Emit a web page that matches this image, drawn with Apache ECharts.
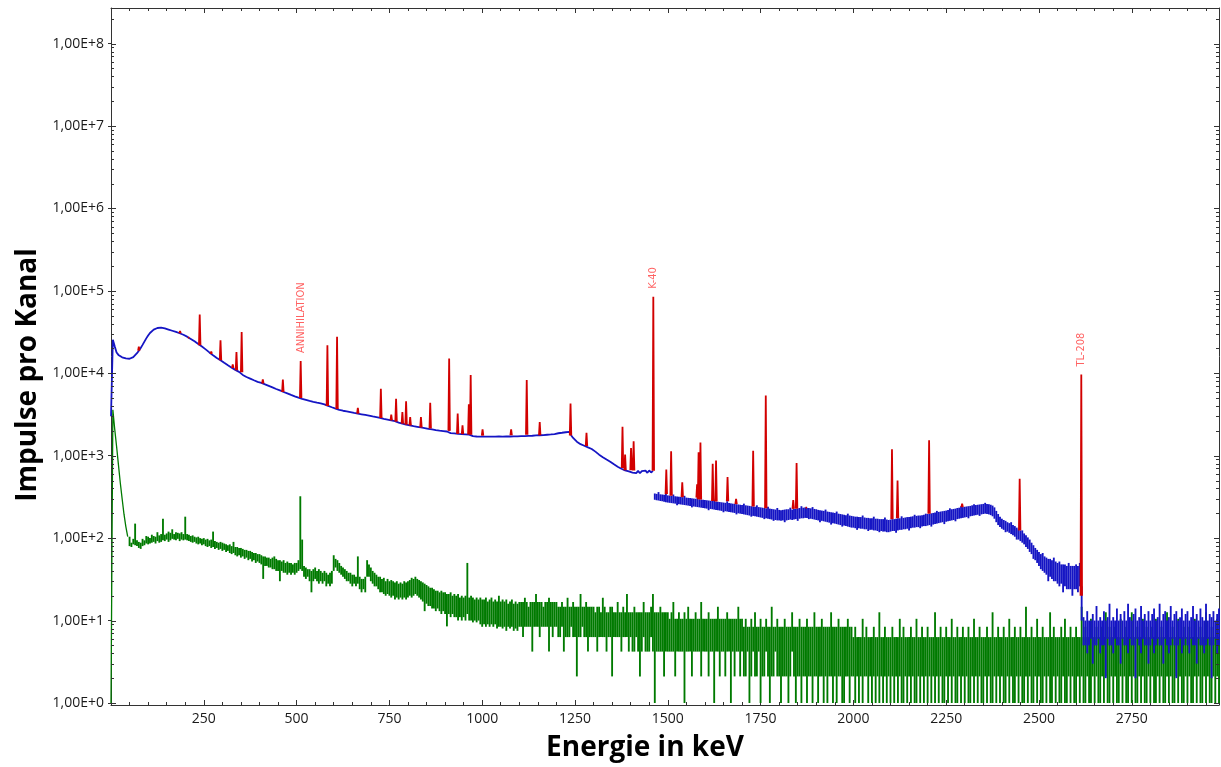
<!DOCTYPE html>
<html>
<head>
<meta charset="utf-8">
<script src="https://cdn.jsdelivr.net/npm/echarts@6/dist/echarts.min.js"></script>
<style>
  html, body { margin: 0; padding: 0; background: #ffffff; }
  #chart { width: 1221px; height: 767px; }
</style>
</head>
<body>
<div id="chart"></div>
<script>
// Energy grid of the stored spectra: one entry every 5 keV
const CHANNEL_KEV = 5;
const X_MAX = 2985;
const Y_MIN = 0.945;
const Y_MAX = 2.7e8;

// Sample spectrum, counts per channel, 0 ... 1460 keV
const sampleCounts = [
  3000, 25500, 21200, 17900, 16700, 16000, 15600, 15300, 15150, 15050, 15000, 15200, 15700, 16500, 17500, 18800, 20300, 22100, 24200, 26500,
  28700, 30800, 32500, 33800, 34800, 35400, 35700, 35800, 35500, 35000, 34400, 33900, 33300, 32800, 32200, 31700, 31200, 30600, 30000, 29300,
  28600, 27800, 27000, 26100, 25300, 24400, 23500, 22700, 21900, 21100, 20300, 19500, 18700, 17900, 17200, 16500, 15900, 15300, 14800, 14400,
  14000, 13400, 13100, 12500, 12300, 11700, 11600, 11000, 10900, 10400, 10300, 9550, 9380, 9020, 8980, 8620, 8580, 8220, 8180, 7870,
  7850, 7650, 7520, 7340, 7240, 7040, 6940, 6740, 6640, 6440, 6370, 6190, 6110, 5930, 5860, 5690, 5610, 5460, 5390, 5240,
  5190, 5050, 5010, 4890, 4860, 4760, 4730, 4630, 4610, 4510, 4500, 4410, 4410, 4320, 4300, 4200, 4170, 4020, 3980, 3870,
  3830, 3730, 3680, 3600, 3590, 3510, 3510, 3440, 3430, 3370, 3360, 3300, 3300, 3240, 3240, 3180, 3180, 3120, 3120, 3060,
  3060, 2990, 3000, 2930, 2930, 2870, 2860, 2800, 2800, 2740, 2740, 2680, 2680, 2620, 2590, 2520, 2510, 2450, 2450, 2380,
  2390, 2330, 2340, 2280, 2300, 2240, 2260, 2200, 2220, 2160, 2180, 2120, 2140, 2080, 2100, 2040, 2070, 2010, 2040, 1990,
  2020, 1965, 2000, 1880, 1920, 1860, 1900, 1840, 1880, 1825, 1865, 1815, 1855, 1805, 1795, 1725, 1760, 1710, 1750, 1705,
  1750, 1700, 1760, 1700, 1755, 1705, 1765, 1700, 1760, 1710, 1770, 1705, 1765, 1715, 1775, 1710, 1770, 1720, 1780, 1720,
  1775, 1725, 1785, 1730, 1790, 1740, 1800, 1745, 1805, 1760, 1815, 1770, 1830, 1780, 1840, 1795, 1855, 1810, 1870, 1830,
  1860, 1872, 1885, 1898, 1910, 1925, 1938, 1950, 1760, 1640, 1570, 1480, 1440, 1380, 1370, 1320, 1310, 1260, 1260, 1205,
  1185, 1120, 1100, 1030, 1035, 960, 975, 900, 910, 845, 850, 785, 790, 735, 750, 695, 710, 665, 690, 645,
  665, 625, 660, 615, 655, 612, 650, 618, 660, 620, 662, 625, 655
];

// Sample spectrum above the K-40 line: lowest and highest counts per 5 keV bin, 1465 ... 2985 keV
const SAMPLE_BANDS_START = 1465;
const sampleBands = [
  292,348, 288,344, 286,362, 282,340, 280,338, 276,336, 272,342,
  270,330, 268,328, 266,326, 264,338, 262,322, 250,320, 258,318, 256,316, 254,314, 252,326, 250,310, 248,308, 246,306, 236,304, 242,302, 240,300, 238,310, 236,296, 234,294, 232,292,
  230,290, 228,288, 218,286, 226,284, 224,282, 222,292, 220,278, 218,276, 216,274, 214,272, 206,270, 212,268, 210,280, 208,266, 206,264, 204,262, 202,260, 194,258, 200,256, 198,254,
  196,252, 194,262, 192,250, 190,248, 188,246, 182,244, 186,242, 184,240, 182,250, 180,238, 178,236, 176,234, 170,232, 174,230, 172,240, 170,228, 168,226, 162,224, 166,222, 164,232,
  164,220, 162,218, 164,220, 156,222, 164,224, 166,224, 168,234, 166,222, 168,226, 170,228, 162,230, 172,232, 174,244, 174,234, 176,236, 176,234, 170,232, 172,230, 170,238, 168,226,
  166,224, 164,220, 156,218, 162,216, 160,214, 158,222, 156,210, 154,208, 146,206, 152,204, 150,202, 148,210, 146,198, 144,196, 138,194, 142,192, 140,190, 138,198, 136,188, 134,186,
  134,184, 132,182, 126,182, 132,180, 130,180, 130,188, 128,178, 128,176, 122,176, 126,174, 126,174, 124,182, 124,172, 122,172, 118,170, 122,170, 120,170, 120,178, 118,168, 118,166,
  120,168, 122,170, 122,170, 116,172, 124,174, 126,174, 126,184, 128,176, 128,178, 130,180, 124,180, 132,182, 134,184, 134,192, 136,186, 136,188, 132,188, 138,190, 140,192, 140,198,
  142,196, 144,198, 138,200, 146,202, 148,204, 150,214, 152,208, 154,210, 156,212, 148,214, 158,216, 160,220, 162,230, 164,224, 166,226, 160,228, 170,232, 172,234, 174,244, 176,238,
  178,240, 180,242, 174,244, 184,246, 186,250, 188,258, 190,252, 192,254, 186,256, 194,258, 196,260, 198,268, 196,260, 194,258, 190,254, 184,248, 172,236, 156,214, 144,196, 136,182,
  130,172, 126,166, 118,162, 120,156, 116,152, 112,156, 108,144, 104,140, 96,134, 96,128, 92,124, 88,124, 84,114, 78,108, 74,102, 68,96, 64,88, 56,82, 54,76, 50,72,
  46,68, 42,64, 40,66, 38,60, 36,58, 30,56, 34,56, 32,54, 30,58, 30,52, 28,50, 26,52, 28,48, 22,48, 26,48, 24,46, 24,50, 24,46, 20,46, 24,46,
  24,48, 22,46, 26,50,
  10,20, 5,11, 5,10, 4,13, 5,10, 6,10, 3,12, 5,10, 5,15, 6,10, 4,11, 5,10, 5,13, 2,10, 6,11, 5,16, 5,10,
  4,11, 6,10, 5,14, 5,10, 3,12, 6,10, 5,13, 5,10, 4,16, 6,11, 5,10, 5,12, 2,14, 6,10, 5,11, 4,15, 6,10, 5,12, 5,10, 3,13,
  5,10, 6,12, 4,14, 5,10, 6,11, 5,16, 5,10, 3,12, 6,13, 5,10, 4,11, 5,15, 6,10, 5,12, 2,13, 5,10, 6,11, 4,14, 5,10, 6,12,
  5,13, 4,10, 6,11, 5,15, 5,10, 3,12, 6,10, 5,14, 5,11, 4,10, 5,16, 6,10, 5,12, 2,11, 5,13, 6,10, 4,12, 5,14
];

// Background spectrum, counts per channel, 0 ... 45 keV
const backgroundCounts = [1, 3600, 2100, 1300, 780, 470, 300, 195, 138, 104];

// Background spectrum: lowest and highest counts per 5 keV bin, 50 ... 2985 keV
const BACKGROUND_BANDS_START = 50;
const backgroundBands = [
  80,92, 78,88, 84,98, 82,150, 80,94, 76,90, 74,88, 80,98, 82,94, 86,106,
  84,104, 86,100, 88,110, 90,106, 86,104, 92,118, 88,108, 90,112, 94,172, 92,110, 96,114, 90,120, 94,116, 98,128, 96,112, 94,118, 98,116, 92,114, 96,118, 94,112,
  96,182, 94,112, 92,110, 90,106, 88,108, 90,104, 86,102, 84,104, 86,100, 82,98, 84,100, 80,96, 78,98, 80,94, 76,96, 78,120, 74,92, 76,90, 72,88, 74,90,
  70,88, 72,86, 68,84, 70,82, 66,84, 64,80, 66,90, 62,78, 60,78, 62,76, 58,76, 60,74, 56,72, 58,72, 54,70, 56,70, 52,68, 54,66, 50,66, 52,64,
  50,64, 48,62, 32,60, 46,60, 46,58, 44,58, 44,56, 42,58, 42,60, 40,56, 40,54, 30,54, 40,52, 38,54, 38,50, 36,52, 38,50, 36,50, 38,48, 36,50,
  38,50, 40,54, 42,322, 40,96, 34,46, 32,44, 34,42, 30,42, 22,40, 30,42, 32,44, 30,40, 28,42, 30,40, 28,38, 30,40, 26,38, 28,36, 26,38, 28,40,
  48,62, 44,56, 40,54, 38,50, 36,46, 34,44, 32,42, 30,40, 30,38, 28,38, 26,36, 28,36, 26,34, 28,60, 24,34, 22,32, 24,32, 22,34, 36,54, 34,48,
  30,44, 28,40, 26,38, 26,36, 24,34, 22,34, 22,32, 21,33, 20,30, 21,32, 20,30, 19,31, 20,30, 18,29, 19,30, 18,28, 19,29, 18,28, 19,30, 18,29,
  19,30, 20,31, 19,33, 20,32, 21,34, 20,32, 19,31, 18,30, 17,29, 13,28, 16,27, 15,26, 15,25, 14,25, 14,24, 13,23, 14,23, 13,22, 12,23, 13,22,
  12,22, 8.5,21, 12,21, 11,22, 12,20, 11,21, 11,20, 10,21, 11,19, 10,20, 11,19, 10,20, 12,50, 10,19, 10,20, 9.5,19, 10,18, 9.5,19, 10,18, 9,19,
  8.4,18, 9,18, 8.4,19, 9,17, 8.4,18, 9,19, 8.4,17, 9,18, 8,17, 8.4,20, 8.4,17, 8,18, 8.4,17, 7.5,18, 8.4,16, 8,17, 8.4,18, 7.5,16, 8,17, 7.5,16,
  8.4,16.8, 8.4,16.8, 6.3,16.8, 8.4,18.9, 8.4,16.8, 8.4,14.7, 8.4,16.8, 4.2,16.8, 8.4,16.8, 8.4,21, 8.4,16.8, 6.3,16.8, 8.4,16.8, 8.4,14.7, 8.4,16.8, 8.4,16.8, 4.2,18.9, 8.4,16.8, 6.3,16.8, 8.4,16.8,
  8.4,16.8, 6.3,14.7, 6.3,14.7, 8.4,16.8, 4.2,14.7, 6.3,14.7, 6.3,18.9, 6.3,14.7, 8.4,14.7, 6.3,16.8, 6.3,14.7, 2.1,14.7, 6.3,14.7, 6.3,21, 8.4,14.7, 6.3,14.7, 6.3,16.8, 4.2,14.7, 6.3,14.7, 6.3,14.7,
  6.3,14.7, 6.3,12.6, 4.2,14.7, 6.3,14.7, 6.3,12.6, 6.3,18.9, 6.3,14.7, 4.2,12.6, 6.3,12.6, 6.3,14.7, 2.1,14.7, 6.3,12.6, 6.3,12.6, 6.3,16.8, 6.3,12.6, 4.2,12.6, 6.3,14.7, 6.3,12.6, 6.3,21, 4.2,12.6,
  6.3,12.6, 4.2,12.6, 4.2,14.7, 6.3,12.6, 4.2,12.6, 2.1,12.6, 4.2,12.6, 6.3,16.8, 4.2,12.6, 4.2,12.6, 4.2,12.6, 6.3,14.7, 4.2,21, 1,12.6, 4.2,12.6, 4.2,12.6, 4.2,14.7, 4.2,12.6, 2.1,12.6, 4.2,12.6,
  4.2,12.6, 4.2,10.5, 4.2,12.6, 4.2,16.8, 2.1,10.5, 4.2,10.5, 4.2,12.6, 4.2,10.5, 4.2,10.5, 1,12.6, 4.2,10.5, 4.2,14.7, 4.2,10.5, 2.1,10.5, 4.2,10.5, 4.2,12.6, 4.2,10.5, 4.2,10.5, 2.1,16.8, 4.2,10.5,
  4.2,10.5, 4.2,10.5, 2.1,12.6, 4.2,10.5, 4.2,10.5, 1,10.5, 4.2,10.5, 4.2,14.7, 2.1,10.5, 4.2,10.5, 4.2,10.5, 2.1,10.5, 4.2,12.6, 4.2,10.5, 1,10.5, 4.2,10.5, 2.1,10.5, 4.2,10.5, 4.2,14.7, 2.1,10.5,
  4.2,10.5, 2.1,8.4, 2.1,10.5, 4.2,8.4, 1,8.4, 2.1,10.5, 4.2,8.4, 2.1,12.6, 2.1,8.4, 4.2,8.4, 1,10.5, 2.1,8.4, 2.1,8.4, 4.2,10.5, 2.1,8.4, 1,8.4, 2.1,14.7, 2.1,8.4, 4.2,8.4, 2.1,10.5,
  2.1,8.4, 1,8.4, 2.1,8.4, 2.1,10.5, 2.1,8.4, 1,8.4, 2.1,8.4, 4.2,12.6, 2.1,8.4, 1,8.4, 2.1,8.4, 2.1,10.5, 1,8.4, 2.1,8.4, 2.1,8.4, 1,10.5, 2.1,8.4, 2.1,8.4, 1,8.4, 2.1,12.6,
  2.1,8.4, 1,8.4, 2.1,8.4, 2.1,10.5, 1,8.4, 2.1,8.4, 1,8.4, 2.1,8.4, 2.1,12.6, 1,8.4, 2.1,8.4, 1,8.4, 2.1,10.5, 2.1,8.4, 1,8.4, 1,8.4, 2.1,8.4, 2.1,10.5, 1,8.4, 2.1,8.4,
  2.1,6.3, 1,8.4, 2.1,6.3, 1,6.3, 2.1,6.3, 1,10.5, 2.1,6.3, 2.1,8.4, 1,6.3, 2.1,6.3, 1,6.3, 2.1,8.4, 1,6.3, 2.1,6.3, 1,12.6, 2.1,6.3, 1,6.3, 2.1,8.4, 1,6.3, 2.1,6.3,
  1,6.3, 2.1,8.4, 1,6.3, 2.1,6.3, 1,6.3, 2.1,10.5, 1,6.3, 1,8.4, 2.1,6.3, 1,6.3, 2.1,6.3, 1,8.4, 2.1,6.3, 1,6.3, 1,10.5, 2.1,6.3, 1,6.3, 2.1,8.4, 1,6.3, 2.1,6.3,
  1,8.4, 2.1,6.3, 1,6.3, 2.1,6.3, 1,12.6, 2.1,6.3, 1,6.3, 2.1,8.4, 1,6.3, 1,6.3, 2.1,8.4, 1,6.3, 2.1,6.3, 1,10.5, 2.1,6.3, 1,6.3, 1,8.4, 2.1,6.3, 1,6.3, 2.1,8.4,
  1,6.3, 2.1,6.3, 1,8.4, 1,6.3, 2.1,6.3, 1,10.5, 2.1,6.3, 1,6.3, 2.1,8.4, 1,6.3, 1,6.3, 2.1,6.3, 1,8.4, 2.1,6.3, 1,6.3, 1,12.6, 2.1,6.3, 1,6.3, 2.1,8.4, 1,6.3,
  2.1,6.3, 1,8.4, 1,6.3, 2.1,6.3, 1,10.5, 2.1,6.3, 1,6.3, 1,8.4, 2.1,6.3, 1,6.3, 2.1,8.4, 1,6.3, 1,6.3, 2.1,14.7, 1,6.3, 2.1,6.3, 1,8.4, 1,6.3, 2.1,6.3, 1,10.5,
  2.1,6.3, 1,6.3, 1,8.4, 2.1,6.3, 1,6.3, 2.1,6.3, 1,12.6, 1,6.3, 2.1,8.4, 1,6.3, 2.1,6.3, 1,6.3, 1,8.4, 2.1,6.3, 1,10.5, 1,6.3, 2.1,6.3, 1,8.4, 2.1,6.3, 1,6.3,
  1,8.4, 2.1,6.3, 1,6.3, 2.1,14.7, 1,6.3, 1,8.4, 2.1,6.3, 1,6.3, 1,10.5, 2.1,6.3, 1,6.3, 2.1,8.4, 1,6.3, 1,6.3, 2.1,8.4, 1,6.3, 2.1,12.6, 1,6.3, 1,8.4, 2.1,6.3,
  1,6.3, 2.1,8.4, 1,6.3, 1,6.3, 2.1,10.5, 1,6.3, 2.1,6.3, 1,8.4, 1,6.3, 2.1,6.3, 1,12.6, 2.1,6.3, 1,6.3, 1,8.4, 2.1,6.3, 1,6.3, 2.1,10.5, 1,6.3, 1,8.4, 2.1,6.3,
  1,6.3, 2.1,8.4, 1,6.3, 1,10.5, 2.1,6.3, 1,6.3, 2.1,8.4, 1,6.3, 1,6.3, 2.1,12.6, 1,6.3, 2.1,6.3, 1,8.4, 1,6.3, 2.1,6.3, 1,10.5, 2.1,6.3, 1,6.3, 1,8.4, 2.1,6.3,
  1,6.3, 2.1,8.4, 1,6.3, 1,6.3, 2.1,10.5, 1,6.3, 2.1,6.3, 1,8.4, 1,6.3, 2.1,6.3, 1,12.6, 2.1,6.3, 1,6.3, 1,8.4, 2.1,6.3, 1,6.3, 2.1,10.5, 1,6.3
];

// Identified peaks of the sample spectrum: [energy keV, peak counts]
const peaks = [
  [75, 21000], [186, 32500], [209, 27800], [239, 51500], [270, 18300], [295, 25200],
  [328, 12800], [338, 18100], [352, 31600], [409, 8400], [463, 8400], [511, 14100],
  [583, 21800], [609, 27700], [665, 3800], [727, 6500], [755, 3160], [768, 4900],
  [785, 3380], [795, 4570], [806, 2950], [835, 2950], [860, 4370], [911, 15100],
  [934, 3240], [947, 2330], [964, 4200], [969, 9500], [1001, 2080], [1078, 2080],
  [1120, 8300], [1155, 2560], [1238, 4300], [1281, 1900], [1378, 2240], [1385, 1030],
  [1401, 1240], [1408, 1500], [1461, 85000], [1496, 680], [1509, 1130], [1539, 475],
  [1579, 450], [1583, 1100], [1588, 1450], [1621, 800], [1630, 875], [1661, 550],
  [1684, 300], [1730, 1150], [1764, 5370], [1838, 290], [1847, 815], [1873, 240],
  [2104, 1200], [2119, 500], [2204, 1540], [2293, 262], [2448, 525], [2614, 9660]
];

// Named lines: [label, energy keV]
const peakNames = [
  ['ANNIHILATION', 511],
  ['K-40', 1461],
  ['TL-208', 2614]
];

// Tick labels of the count axis, one per decade
const decadeLabels = ['1,00E+0', '1,00E+1', '1,00E+2', '1,00E+3', '1,00E+4', '1,00E+5', '1,00E+6', '1,00E+7', '1,00E+8'];

const AXIS_COLOR = '#333333';
const TEXT_FONT = 'Open Sans';
const SAMPLE_COLOR = '#1515c4';
const BACKGROUND_COLOR = '#007a00';
const PEAK_COLOR = '#d20000';

function channelPoints(counts, start) {
  return counts.map((c, i) => [start + i * CHANNEL_KEV, c]);
}

// One item per band bin: [energy, lowest, highest]; each bin is stretched
// to meet the previous bin so the trace stays continuous.
function bandItems(flat, start, before) {
  const items = [];
  let prevLo = before, prevHi = before;
  for (let i = 0; i < flat.length / 2; i++) {
    const lo = flat[2 * i];
    const hi = flat[2 * i + 1];
    items.push([start + i * CHANNEL_KEV, Math.min(lo, prevHi), Math.max(hi, prevLo)]);
    prevLo = lo;
    prevHi = hi;
  }
  return items;
}

const sampleLine = channelPoints(sampleCounts, 0);
const backgroundLine = channelPoints(backgroundCounts, 0);
const sampleBandItems = bandItems(sampleBands, SAMPLE_BANDS_START, sampleBands[0]);
const backgroundBandItems = bandItems(backgroundBands, BACKGROUND_BANDS_START, backgroundCounts[backgroundCounts.length - 1]);

// Continuum level of the sample spectrum at a peak position
function continuumAt(e) {
  if (e < SAMPLE_BANDS_START - CHANNEL_KEV / 2) return sampleCounts[Math.round(e / CHANNEL_KEV)];
  const bin = Math.round((e - SAMPLE_BANDS_START) / CHANNEL_KEV);
  return sampleBands[2 * bin + 1];
}

const peakData = [];
peaks.forEach(([e, top]) => {
  const base = continuumAt(e);
  peakData.push([e - 2, base], [e, top], [e + 2, base], [e + 2, '-']);
});

const peakTop = e => peaks.find(p => p[0] === e)[1];
const nameData = peakNames.map(([name, e]) => ({ value: [e, peakTop(e)], name: name }));

// Log ticks inside the frame on the left and right edges (1..9 per decade)
const logTickData = [];
for (let d = 0; d < decadeLabels.length; d++) {
  for (let k = 1; k <= 9; k++) {
    const v = k * Math.pow(10, d);
    if (v <= Y_MAX) logTickData.push([k, v]);
  }
}

// Each bin fills its 5 keV slot between its lowest and highest count
function bandSeries(name, items, color, z) {
  return {
    name: name,
    type: 'custom',
    data: items,
    encode: { x: 0, y: [1, 2] },
    silent: true,
    z: z,
    renderItem: (params, api) => {
      const e = api.value(0);
      const a = api.coord([e - CHANNEL_KEV / 2, api.value(2)]);
      const b = api.coord([e + CHANNEL_KEV / 2, api.value(1)]);
      return {
        type: 'rect',
        shape: { x: a[0], y: a[1], width: b[0] - a[0], height: Math.max(b[1] - a[1], 1) },
        style: { fill: color }
      };
    }
  };
}

const chart = echarts.init(document.getElementById('chart'), null, { renderer: 'canvas' });

chart.setOption({
  animation: false,
  backgroundColor: '#ffffff',
  grid: { left: 111, right: 2, top: 8, bottom: 62, containLabel: false },
  xAxis: [
    {
      type: 'value',
      min: 0,
      max: X_MAX,
      interval: 250,
      name: 'Energie in keV',
      nameLocation: 'middle',
      nameGap: 29,
      nameTextStyle: { fontFamily: TEXT_FONT, fontWeight: 'bold', fontSize: 28, color: '#000000', padding: [0, 40, 0, 0] },
      axisLine: { show: true, onZero: false, lineStyle: { color: AXIS_COLOR, width: 1 } },
      axisTick: { show: true, inside: true, length: 5, lineStyle: { color: AXIS_COLOR } },
      minorTick: { show: true, splitNumber: 5, length: 3, lineStyle: { color: AXIS_COLOR } },
      axisLabel: {
        showMinLabel: false,
        showMaxLabel: false,
        margin: 7,
        fontFamily: TEXT_FONT,
        fontSize: 14,
        color: '#1a1a1a',
        formatter: v => String(v)
      },
      splitLine: { show: false }
    },
    {
      type: 'value',
      position: 'top',
      min: 0,
      max: X_MAX,
      interval: 250,
      axisLine: { show: true, onZero: false, lineStyle: { color: AXIS_COLOR, width: 1 } },
      axisTick: { show: true, inside: true, length: 5, lineStyle: { color: AXIS_COLOR } },
      minorTick: { show: true, splitNumber: 5, length: 3, lineStyle: { color: AXIS_COLOR } },
      axisLabel: { show: false },
      splitLine: { show: false }
    }
  ],
  yAxis: [
    {
      type: 'log',
      logBase: 10,
      min: Y_MIN,
      max: Y_MAX,
      name: 'Impulse pro Kanal',
      nameLocation: 'middle',
      nameGap: 64,
      nameTextStyle: { fontFamily: TEXT_FONT, fontWeight: 'bold', fontSize: 28, color: '#000000', padding: [0, 37, 0, 0] },
      axisLine: { show: true, onZero: false, lineStyle: { color: AXIS_COLOR, width: 1 } },
      axisTick: { show: true, inside: false, length: 3, lineStyle: { color: AXIS_COLOR } },
      axisLabel: {
        showMinLabel: false,
        showMaxLabel: false,
        margin: 7,
        fontFamily: TEXT_FONT,
        fontSize: 14,
        color: '#1a1a1a',
        formatter: v => decadeLabels[Math.round(Math.log10(v))] || ''
      },
      splitLine: { show: false }
    },
    {
      type: 'log',
      logBase: 10,
      position: 'right',
      min: Y_MIN,
      max: Y_MAX,
      axisLine: { show: true, onZero: false, lineStyle: { color: AXIS_COLOR, width: 1 } },
      axisTick: { show: false },
      axisLabel: { show: false },
      splitLine: { show: false }
    }
  ],
  series: [
    {
      name: 'Untergrund',
      type: 'line',
      data: backgroundLine,
      showSymbol: false,
      symbol: 'none',
      z: 2,
      lineStyle: { color: BACKGROUND_COLOR, width: 1.3 }
    },
    bandSeries('Untergrund Band', backgroundBandItems, BACKGROUND_COLOR, 2),
    {
      name: 'Probe',
      type: 'line',
      data: sampleLine,
      showSymbol: false,
      symbol: 'none',
      z: 3,
      lineStyle: { color: SAMPLE_COLOR, width: 1.8 }
    },
    bandSeries('Probe Band', sampleBandItems, SAMPLE_COLOR, 3),
    {
      name: 'Peaks',
      type: 'line',
      data: peakData,
      showSymbol: false,
      symbol: 'none',
      connectNulls: false,
      z: 4,
      lineStyle: { color: PEAK_COLOR, width: 1.8 }
    },
    {
      name: 'Nuklide',
      type: 'scatter',
      data: nameData,
      symbolSize: 0,
      z: 5,
      silent: true,
      label: {
        show: true,
        position: 'top',
        distance: 8,
        rotate: 90,
        align: 'left',
        verticalAlign: 'middle',
        formatter: p => p.name,
        fontFamily: "'Liberation Sans Narrow', 'DejaVu Sans Condensed', 'Liberation Sans', sans-serif",
        fontSize: 11,
        color: '#ff3b3b'
      }
    },
    {
      name: 'logTicks',
      type: 'custom',
      data: logTickData,
      silent: true,
      z: 6,
      clip: false,
      renderItem: (params, api) => {
        const k = api.value(0);
        const v = api.value(1);
        const l = api.coord([0, v]);
        const r = api.coord([X_MAX, v]);
        const y = Math.round(l[1]) + 0.5;
        const len = k === 1 ? 5 : 3;
        return {
          type: 'group',
          children: [
            { type: 'line', shape: { x1: l[0], y1: y, x2: l[0] + len, y2: y }, style: { stroke: AXIS_COLOR, lineWidth: 1 } },
            { type: 'line', shape: { x1: r[0] - len, y1: y, x2: r[0], y2: y }, style: { stroke: AXIS_COLOR, lineWidth: 1 } }
          ]
        };
      }
    }
  ]
});
</script>
</body>
</html>
